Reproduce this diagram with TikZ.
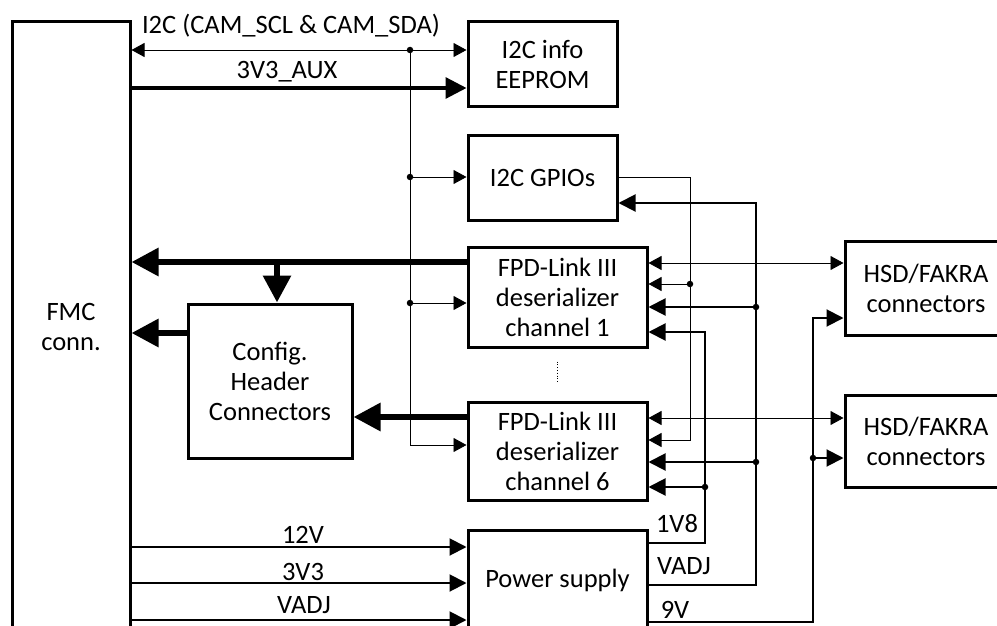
\documentclass[tikz,border=0pt]{standalone}
\usepackage{fontspec}
\setmainfont{Carlito}
\usetikzlibrary{arrows.meta,calc}
\newcommand\myfs{\fontsize{26.5}{30}\selectfont}
\begin{document}
\begin{tikzpicture}[x=1pt,y=-1pt,
 box/.style={draw, line width=3pt, inner sep=0pt, align=center, font=\myfs},
 lbl/.style={inner sep=0pt, font=\myfs, anchor=base},
 thinw/.style={line width=0.9pt, >={Triangle[length=13pt,width=14pt]}},
 medw/.style={line width=2pt, >={Triangle[length=17pt,width=17pt]}},
 auxw/.style={line width=3.2pt, >={Triangle[length=21pt,width=21pt]}},
 busw/.style={line width=6pt, >={Triangle[length=27pt,width=27pt]}},
 dot/.style={circle, fill, inner sep=0pt, minimum size=6.5pt}]
\clip (0,0) rectangle (997,626);
\fill[white] (0,0) rectangle (997,626);
% boxes
\node[box, minimum width=118pt, minimum height=610pt] (FMC) at (71,327) {FMC\\conn.};
\node[box, minimum width=149pt, minimum height=85pt] (EE) at (542.5,64.5) {I2C info\\EEPROM};
\node[box, minimum width=149pt, minimum height=85pt] (GPIO) at (542.5,177.5) {I2C GPIOs};
\node[box, minimum width=179pt, minimum height=100pt] (ch1) at (557.5,297) {FPD-Link III\\deserializer\\channel 1};
\node[box, minimum width=179pt, minimum height=98pt] (ch6) at (557.5,451) {FPD-Link III\\deserializer\\channel 6};
\node[box, minimum width=164pt, minimum height=154pt] (Cfg) at (270,381) {Config.\\Header\\Connectors};
\node[box, minimum width=179pt, minimum height=100pt] (PS) at (557.5,580) {Power supply};
\node[box, minimum width=162pt, minimum height=94pt] (HSD1) at (926,288) {HSD/FAKRA\\connectors};
\node[box, minimum width=162pt, minimum height=92pt] (HSD2) at (926,441) {HSD/FAKRA\\connectors};
% labels
\node[lbl] (lI2C) at (291,34) {I2C (CAM\_SCL \& CAM\_SDA)};
\node[lbl] (lAux) at (287,78) {3V3\_AUX};
\node[lbl] (l12) at (303,543) {12V};
\node[lbl] (l33) at (303,580) {3V3};
\node[lbl] (lVa) at (304,613) {VADJ};
\node[lbl] (l18) at (677,532) {1V8};
\node[lbl] (lVb) at (684,574) {VADJ};
\node[lbl] (l9) at (675,618) {9V};
% dots
\node[dot] (dB) at (410,50) {};
\node[dot] (dG) at (410,177) {};
\node[dot] (dC) at (410,303) {};
\node[dot] (dA) at (690,284) {};
\node[dot] (dV1) at (756,307) {};
\node[dot] (dV6) at (756,462) {};
\node[dot] (d18) at (705,487) {};
\node[dot] (d9) at (813,458) {};
\coordinate (cB) at (410,445);
\coordinate (cG) at (690,177);
\coordinate (cG2) at (690,440);
\coordinate (cVb) at (756,585);
\coordinate (cVt) at (756,203);
\coordinate (c18b) at (705,543);
\coordinate (c18t) at (705,332);
\coordinate (c9b) at (813,622);
\coordinate (c9t) at (813,318);
\coordinate (cBr) at (277,262);
% left connectors
\draw[thinw,<->] (FMC.east |- dB) -- (EE.west |- dB);
\draw[thinw,->] (dB.center) -- (cB) -- (ch6.west |- cB);
\draw[thinw,->] (dG.center) -- (GPIO.west |- dG);
\draw[thinw,->] (dC.center) -- (ch1.west |- dC);
\draw[auxw,->] (FMC.east |- 0,88) -- (EE.west |- 0,88);
\draw[busw,->] (ch1.west |- cBr) -- (FMC.east |- cBr);
\draw[busw,->] (cBr) -- (Cfg.north -| cBr);
\draw[busw,->] (Cfg.west |- 0,333) -- (FMC.east |- 0,333);
\draw[busw,->] (ch6.west |- 0,417) -- (Cfg.east |- 0,417);
\draw[medw,->] (FMC.east |- 0,547) -- (PS.west |- 0,547);
\draw[medw,->] (FMC.east |- 0,583) -- (PS.west |- 0,583);
\draw[medw,->] (FMC.east |- 0,620) -- (PS.west |- 0,620);
% right connectors
\draw[thinw,<->] (ch1.east |- 0,263) -- (HSD1.west |- 0,263);
\draw[thinw,<->] (ch6.east |- 0,418) -- (HSD2.west |- 0,418);
\draw[thinw,->] (GPIO.east |- cG) -- (cG) -- (cG2) -- (ch6.east |- cG2);
\draw[thinw,->] (dA.center) -- (ch1.east |- dA);
\draw[medw,->] (PS.east |- cVb) -- (cVb) -- (cVt) -- (GPIO.east |- cVt);
\draw[medw,->] (dV1.center) -- (ch1.east |- dV1);
\draw[medw,->] (dV6.center) -- (ch6.east |- dV6);
\draw[medw,->] (PS.east |- c18b) -- (c18b) -- (c18t) -- (ch1.east |- c18t);
\draw[medw,->] (d18.center) -- (ch6.east |- d18);
\draw[medw,->] (PS.east |- c9b) -- (c9b) -- (c9t) -- (HSD1.west |- c9t);
\draw[medw,->] (d9.center) -- (HSD2.west |- d9);
% dotted ellipsis
\draw[dotted, line width=0.8pt] ($(ch1.south)+(0,13)$) -- ($(ch6.north)+(0,-17)$);
\end{tikzpicture}
\end{document}
